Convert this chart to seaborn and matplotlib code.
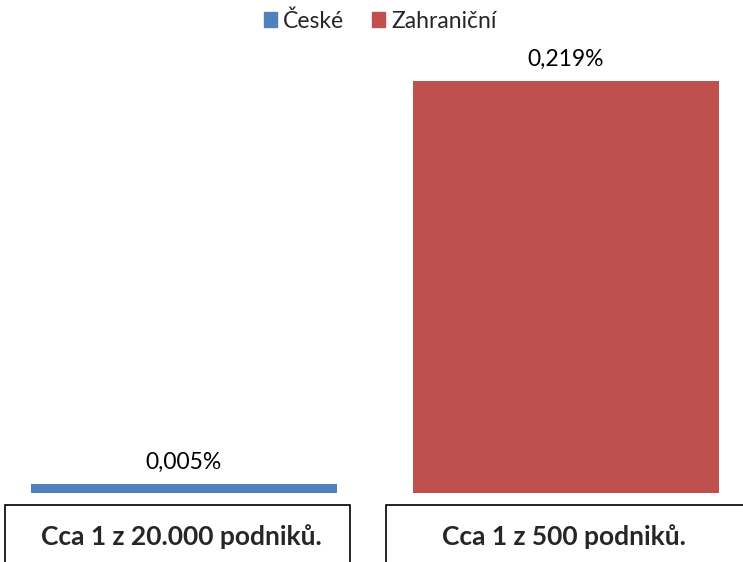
import matplotlib
matplotlib.use('Agg')
import matplotlib.pyplot as plt
import seaborn as sns
from matplotlib.patches import Rectangle

# data
categories = ['České', 'Zahraniční']
values = [0.005, 0.219]
value_labels = ['0,005%', '0,219%']
box_labels = ['Cca 1 z 20.000 podniků.', 'Cca 1 z 500 podniků.']
colors = ['#4F81BD', '#C0504D']

sns.set_style('white')
plt.rcParams['font.family'] = ['Lato', 'DejaVu Sans']

fig = plt.figure(figsize=(7.43, 5.62), dpi=100)
ax = fig.add_axes([0, 1 - 493 / 562, 1, (493 - 81) / 562])

sns.barplot(x=categories, y=values, hue=categories, palette=colors,
            width=0.8, saturation=1, ax=ax, legend=False, linewidth=0)

for cont, lab in zip(ax.containers, value_labels):
    ax.bar_label(cont, labels=[lab], padding=8, fontsize=16.5, color='#000000')

ax.set_xlim(-183.5 / 382.5, (743 - 183.5) / 382.5)
ax.set_ylim(0, 0.219)
ax.axis('off')

handles = [Rectangle((0, 0), 1, 1, color=c) for c in colors]
fig.legend(handles, categories, loc='center', bbox_to_anchor=(380 / 743, 1 - 21 / 562),
           ncol=2, frameon=False, fontsize=16.5, handlelength=0.6, handleheight=0.6,
           handletextpad=0.25, columnspacing=1.2)

# boxes with text below the bars
box_x = [(5, 350), (386, 748)]
for (x0, x1), txt in zip(box_x, box_labels):
    fig.patches.append(Rectangle((x0 / 743, -0.05), (x1 - x0) / 743, 0.05 + (562 - 505) / 562,
                                 transform=fig.transFigure, fill=False,
                                 edgecolor='#000000', linewidth=1.2))
centers = [181, 564]
for cx, txt in zip(centers, box_labels):
    fig.text(cx / 743, 1 - 537 / 562, txt, ha='center', va='center',
             fontsize=19, fontweight='bold')

fig.savefig('out.png', dpi=100)
